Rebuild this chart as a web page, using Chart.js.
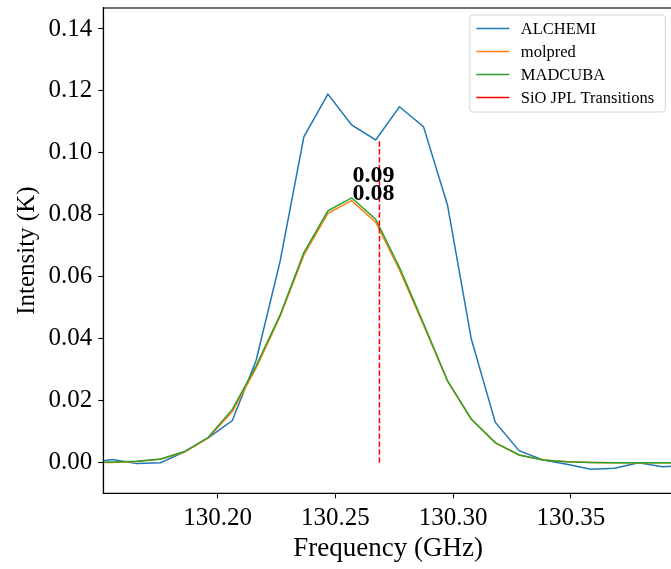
<!DOCTYPE html>
<html>
<head>
<meta charset="utf-8">
<script src="https://cdn.jsdelivr.net/npm/chart.js@4"></script>
<style>
  html, body { margin: 0; padding: 0; background: #fff; overflow: hidden; }
  #wrap { width: 680px; height: 569px; }
</style>
</head>
<body>
<div id="wrap"><canvas id="spec" width="680" height="569"></canvas></div>
<script>
// frequency channels (GHz)
const freq = [130.1452, 130.1554, 130.1656, 130.1757, 130.1859, 130.1960, 130.2062, 130.2163,
  130.2265, 130.2366, 130.2468, 130.2569, 130.2671, 130.2772, 130.2874, 130.2976, 130.3077,
  130.3179, 130.3280, 130.3382, 130.3483, 130.3585, 130.3686, 130.3788, 130.3889, 130.3991];
const alchemi = [0.0, 0.001, -0.0003, 0.0, 0.0035, 0.008, 0.0136, 0.033, 0.065, 0.1052, 0.119,
  0.109, 0.1042, 0.1149, 0.1085, 0.0832, 0.040, 0.0131, 0.0039, 0.0009, -0.0005, -0.0021,
  -0.0018, 0.0, -0.0013, -0.001];
const molpred = [0.0, 0.0001, 0.0004, 0.0011, 0.0034, 0.008, 0.0165, 0.0305, 0.0472, 0.067,
  0.0805, 0.0846, 0.0776, 0.0622, 0.0445, 0.0263, 0.014, 0.0064, 0.0025, 0.0009, 0.0003,
  0.0001, 0.0, 0.0, 0.0, 0.0];
const madcuba = [0.0, 0.0002, 0.0005, 0.0012, 0.0036, 0.0082, 0.0172, 0.0312, 0.0477, 0.0678,
  0.0813, 0.0855, 0.0786, 0.0631, 0.045, 0.0265, 0.0141, 0.0065, 0.0025, 0.0009, 0.0003,
  0.0001, 0.0, 0.0, 0.0, 0.0];

// SiO JPL transition
const sioFreq = 130.2687;
const sioTop = 0.104;

// peak labels
const peakLabels = ['0.09', '0.08'];
const peakLabelY = [0.0927, 0.0867];
const peakLabelX = 130.2662;

const xTicks = [130.20, 130.25, 130.30, 130.35];
const yTicks = [0.00, 0.02, 0.04, 0.06, 0.08, 0.10, 0.12, 0.14];

const serif = '"Liberation Serif", "DejaVu Serif", serif';

const toXY = ys => ys.map((y, i) => ({ x: freq[i], y: y }));

const frame = {
  id: 'frame',
  afterDraw(chart) {
    const { ctx, chartArea: a, scales } = chart;
    ctx.save();
    ctx.strokeStyle = '#000';
    ctx.lineWidth = 1.1;
    ctx.strokeRect(a.left, a.top, a.right - a.left, a.bottom - a.top);

    // peak labels
    ctx.fillStyle = '#000';
    ctx.font = 'bold 24px ' + serif;
    ctx.textAlign = 'center';
    ctx.textBaseline = 'middle';
    peakLabels.forEach((t, i) => {
      ctx.fillText(t, scales.x.getPixelForValue(peakLabelX), scales.y.getPixelForValue(peakLabelY[i]));
    });

    // legend box in the upper right
    const bx = a.left + 366.5, by = a.top + 7, bw = 195.5, bh = 97;
    ctx.beginPath();
    ctx.roundRect(bx, by, bw, bh, 3);
    ctx.fillStyle = 'rgba(255,255,255,0.8)';
    ctx.fill();
    ctx.strokeStyle = '#d6d6d6';
    ctx.lineWidth = 1;
    ctx.stroke();
    ctx.font = '16.5px ' + serif;
    ctx.textAlign = 'left';
    chart.data.datasets.forEach((ds, i) => {
      const ly = by + 13.5 + i * 23;
      ctx.beginPath();
      ctx.moveTo(bx + 6.5, ly);
      ctx.lineTo(bx + 39.5, ly);
      ctx.strokeStyle = ds.borderColor;
      ctx.lineWidth = 1.5;
      ctx.stroke();
      ctx.fillStyle = '#000';
      ctx.fillText(ds.label, bx + 51, ly + 1);
    });
    ctx.restore();
  }
};

new Chart(document.getElementById('spec').getContext('2d'), {
  type: 'line',
  data: {
    datasets: [
      { label: 'ALCHEMI', data: toXY(alchemi), borderColor: '#1f77b4', order: 4 },
      { label: 'molpred', data: toXY(molpred), borderColor: '#ff7f0e', order: 3 },
      { label: 'MADCUBA', data: toXY(madcuba), borderColor: '#2ca02c', order: 2 },
      { label: 'SiO JPL Transitions', data: [{ x: sioFreq, y: 0 }, { x: sioFreq, y: sioTop }],
        borderColor: '#ff0000', borderDash: [5.5, 2.4], order: 1 }
    ]
  },
  options: {
    responsive: false,
    animation: false,
    clip: true,
    layout: { padding: { left: 0, right: 7, top: 8, bottom: 0 } },
    elements: {
      point: { radius: 0 },
      line: { borderWidth: 1.5, tension: 0, fill: false }
    },
    plugins: {
      legend: { display: false },
      tooltip: { enabled: false }
    },
    scales: {
      x: {
        type: 'linear',
        min: 130.1514,
        max: 130.3934,
        afterBuildTicks: axis => { axis.ticks = xTicks.map(v => ({ value: v })); },
        afterFit: axis => { axis.height = 75.7; axis.paddingLeft = 0; axis.paddingRight = 0; },
        border: { display: true, color: '#000', width: 1.1 },
        grid: { display: true, drawOnChartArea: false, drawTicks: true, tickLength: 5, tickWidth: 1.1, tickColor: '#000' },
        ticks: {
          color: '#000', padding: 5, maxRotation: 0,
          font: { family: serif, size: 25 },
          callback: v => v.toFixed(2)
        },
        title: { display: true, text: 'Frequency (GHz)', color: '#000', font: { family: serif, size: 27 }, padding: { top: 0, bottom: 4 } }
      },
      y: {
        min: -0.00988,
        max: 0.14677,
        afterBuildTicks: axis => { axis.ticks = yTicks.map(v => ({ value: v })); },
        afterFit: axis => { axis.width = 103.3; axis.paddingTop = 0; axis.paddingBottom = 0; },
        border: { display: true, color: '#000', width: 1.1 },
        grid: { display: true, drawOnChartArea: false, drawTicks: true, tickLength: 5, tickWidth: 1.1, tickColor: '#000' },
        ticks: {
          color: '#000', padding: 6,
          font: { family: serif, size: 25 },
          callback: v => v.toFixed(2)
        },
        title: { display: true, text: 'Intensity (K)', color: '#000', font: { family: serif, size: 25 }, padding: { top: 12, bottom: 2 } }
      }
    }
  },
  plugins: [frame]
});
</script>
</body>
</html>
